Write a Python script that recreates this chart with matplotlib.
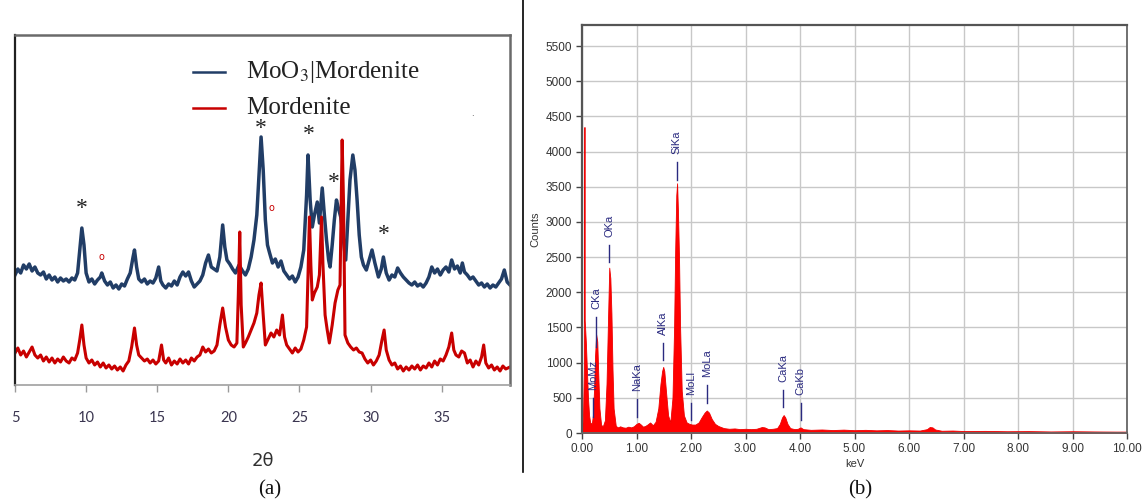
import matplotlib
matplotlib.use("Agg")
import matplotlib.pyplot as plt
from matplotlib.lines import Line2D

# ---------------- data : (a) XRD ----------------
xrd_2theta_blue = [5.0,5.2,5.4,5.6,5.8,6.0,6.2,6.4,6.6,6.8,7.0,7.2,7.4,7.6,7.8,8.0,8.2,8.4,8.6,8.8,9.0,9.2,9.4,9.55,9.7,9.85,
    10.0,10.2,10.4,10.6,10.8,11.0,11.1,11.3,11.5,11.7,11.9,12.1,12.3,12.5,12.7,12.9,13.1,13.3,13.4,13.55,13.7,13.9,
    14.1,14.3,14.5,14.7,14.9,15.1,15.25,15.4,15.6,15.8,16.0,16.2,16.4,16.6,16.8,17.0,17.2,17.4,17.6,17.8,18.0,18.2,
    18.4,18.6,18.8,19.0,19.2,19.4,19.6,19.75,19.9,20.1,20.3,20.5,20.75,21.0,21.2,21.4,21.6,21.8,22.0,22.15,22.3,22.45,
    22.6,22.75,22.9,23.1,23.3,23.5,23.7,23.9,24.1,24.3,24.5,24.7,24.9,25.1,25.3,25.5,25.6,25.75,25.9,26.05,26.25,26.4,
    26.6,26.75,26.9,27.05,27.15,27.3,27.45,27.6,27.75,27.9,28.05,28.25,28.4,28.55,28.75,28.9,29.05,29.2,29.35,29.5,
    29.7,29.9,30.1,30.3,30.55,30.75,30.9,31.1,31.3,31.5,31.7,31.9,32.1,32.3,32.5,32.7,32.9,33.1,33.3,33.5,33.7,33.9,
    34.1,34.3,34.5,34.7,34.9,35.1,35.3,35.5,35.7,35.9,36.1,36.3,36.45,36.6,36.8,37.0,37.2,37.4,37.6,37.8,38.0,38.2,
    38.4,38.6,38.8,39.0,39.2,39.4,39.6,39.8]
xrd_int_blue = [110,116,112,120,116,121,114,118,112,110,113,106,110,105,108,103,107,104,106,103,107,105,112,135,157,140,
    112,103,106,101,105,108,112,104,100,103,97,100,96,101,99,106,112,128,135,118,106,103,
    106,101,104,102,107,118,104,100,97,101,99,104,100,108,113,109,113,104,98,101,104,110,
    122,130,118,116,114,128,160,138,125,121,116,112,120,114,110,116,128,145,170,210,248,215,
    165,140,132,122,126,118,124,114,110,106,109,103,108,118,135,190,230,185,158,170,183,162,
    197,170,145,125,118,140,165,185,176,168,150,125,165,205,230,215,185,150,128,120,
    115,125,135,122,108,116,128,112,105,110,108,117,112,108,105,102,100,103,99,101,98,102,
    108,118,112,116,110,115,118,113,125,116,119,112,122,113,110,106,108,104,100,102,98,101,
    97,100,98,102,106,115,103,100]

xrd_2theta_red = [5.0,5.2,5.4,5.6,5.8,6.0,6.2,6.4,6.6,6.8,7.0,7.2,7.4,7.6,7.8,8.0,8.2,8.4,8.6,8.8,9.0,9.2,9.4,9.55,9.7,9.85,
    10.0,10.2,10.4,10.6,10.8,11.0,11.2,11.4,11.6,11.8,12.0,12.2,12.4,12.6,12.8,13.0,13.2,13.4,13.55,13.7,13.9,
    14.1,14.3,14.5,14.7,14.9,15.1,15.3,15.45,15.6,15.8,16.0,16.2,16.4,16.6,16.8,17.0,17.2,17.4,17.6,17.8,18.0,18.2,
    18.4,18.6,18.8,19.0,19.2,19.4,19.6,19.8,20.0,20.2,20.4,20.6,20.7,20.8,20.9,21.05,21.2,21.4,21.6,21.8,22.0,22.15,
    22.3,22.45,22.6,22.8,23.0,23.2,23.4,23.6,23.8,23.95,24.1,24.3,24.5,24.7,24.9,25.1,25.3,25.5,25.6,25.7,25.8,25.9,
    26.05,26.25,26.4,26.55,26.65,26.8,26.95,27.1,27.3,27.5,27.7,27.85,27.95,28.0,28.1,28.2,28.4,28.6,28.8,29.0,29.2,
    29.4,29.6,29.8,30.0,30.2,30.4,30.6,30.8,30.95,31.1,31.3,31.5,31.7,31.9,32.1,32.3,32.5,32.7,32.9,33.1,33.3,33.5,
    33.7,33.9,34.1,34.3,34.5,34.7,34.9,35.1,35.3,35.5,35.7,35.85,36.0,36.2,36.4,36.6,36.8,37.0,37.2,37.4,37.6,37.8,
    37.95,38.1,38.3,38.5,38.7,38.9,39.1,39.3,39.5,39.8]
xrd_int_red = [32,37,30,34,28,33,38,30,27,30,24,28,23,27,22,26,23,28,24,22,27,25,32,45,60,40,
    27,22,25,20,23,18,22,17,20,16,19,15,18,14,20,24,38,57,40,30,27,
    24,26,22,25,21,24,40,25,22,27,20,24,21,26,22,25,21,27,24,28,30,38,
    33,36,32,34,40,60,77,58,45,40,38,42,90,153,80,38,42,48,55,62,72,90,
    102,70,40,46,52,48,55,50,70,48,40,36,32,37,33,36,45,58,110,168,120,85,
    92,98,110,168,120,70,55,42,60,82,95,100,200,245,180,50,42,38,35,37,33,
    32,26,22,25,20,24,30,45,55,35,25,20,22,16,19,14,18,15,19,16,20,15,
    19,17,22,18,24,20,26,24,30,38,52,35,30,28,34,32,22,25,18,24,20,28,
    40,22,17,20,15,18,14,19,16,18]

star_2theta = [9.73, 22.3, 25.65, 27.4, 30.9]
star_int = [176, 257, 250, 202, 150]
circle_2theta = [11.07, 23.0]
circle_int = [128, 177]
legend_labels = ["MoO$_3$|Mordenite", "Mordenite"]
xrd_xticks = [5, 10, 15, 20, 25, 30, 35]

# ---------------- data : (b) EDS ----------------
eds_kev = [0.00,0.02,0.035,0.045,0.05,0.07,0.09,0.11,0.13,0.15,0.18,0.20,0.22,0.24,0.26,0.28,0.30,0.32,
    0.35,0.38,0.42,0.45,0.48,0.50,0.52,0.54,0.56,0.58,0.62,0.66,0.70,0.75,0.80,0.85,0.90,0.95,1.00,1.04,1.08,1.12,
    1.16,1.20,1.25,1.30,1.35,1.40,1.44,1.47,1.49,1.51,1.54,1.58,1.62,1.66,1.69,1.71,1.73,1.745,1.76,1.78,1.80,1.83,
    1.87,1.92,1.97,2.02,2.08,2.14,2.20,2.25,2.29,2.33,2.38,2.44,2.50,2.60,2.70,2.80,2.90,3.00,3.10,3.20,3.30,3.35,
    3.42,3.50,3.58,3.63,3.67,3.70,3.73,3.77,3.82,3.90,3.96,4.01,4.06,4.20,4.40,4.60,4.80,5.00,5.20,5.40,5.60,5.80,
    6.00,6.20,6.33,6.38,6.43,6.48,6.60,6.80,7.00,7.40,7.80,8.20,8.60,9.00,9.40,9.80,10.00]
eds_counts = [0,300,900,4350,1600,1300,900,500,250,150,130,250,600,1100,1400,1300,800,350,
    120,90,180,700,1700,2350,2200,1700,900,350,100,80,95,80,75,90,80,95,130,145,120,90,
    100,120,150,110,160,350,700,880,940,880,600,250,150,500,1500,2600,3380,3550,3170,2500,1500,600,
    250,150,130,120,120,150,230,290,320,290,200,130,100,70,60,65,55,60,55,60,85,80,
    55,60,70,130,220,255,220,130,70,55,60,80,55,45,50,42,48,40,45,38,42,35,
    38,35,55,85,80,50,32,35,28,30,25,27,22,25,22,20,20]

eds_lines = ["MoMz", "CKa", "OKa", "NaKa", "AlKa", "SiKa", "MoLl", "MoLa", "CaKa", "CaKb"]
eds_line_kev = [0.20, 0.26, 0.50, 1.01, 1.49, 1.74, 2.00, 2.29, 3.69, 4.01]
eds_line_lo = [230, 1220, 2430, 230, 1040, 3600, 190, 430, 370, 190]
eds_line_hi = [500, 1650, 2670, 480, 1280, 3850, 430, 680, 610, 430]
eds_yticks = list(range(0, 5501, 500))
eds_xticks = list(range(0, 11))

# ---------------- figure ----------------
W, H = 1143, 501
fig = plt.figure(figsize=(W / 100, H / 100), dpi=100)

def fx(px):
    return px / W

def fy(py):
    return 1 - py / H

blue = "#213d66"
red = "#c80000"

# (a) XRD panel
axa = fig.add_axes([fx(15), fy(385), fx(510) - fx(15), fy(35) - fy(385)])
axa.plot(xrd_2theta_blue, xrd_int_blue, color=blue, lw=2.5, solid_joinstyle="round")
axa.plot(xrd_2theta_red, xrd_int_red, color=red, lw=2.2, solid_joinstyle="round")
axa.set_xlim(5, 39.8)
axa.set_ylim(0, 350)
axa.set_yticks([])
axa.set_xticks(xrd_xticks)
axa.set_xticklabels([str(t) for t in xrd_xticks], fontsize=10.5, color="#3a3550", family="Lato")
axa.tick_params(axis="x", direction="out", length=5, width=1, color="#9a9a9a", pad=14)
for s in ["top", "right"]:
    axa.spines[s].set_color("#6a6a6a")
    axa.spines[s].set_linewidth(1.8)
axa.spines["left"].set_color("#202020")
axa.spines["left"].set_linewidth(1.6)
axa.spines["bottom"].set_color("#a0a0a0")
axa.spines["bottom"].set_linewidth(1.2)
axa.set_xlabel("2θ", fontsize=13, color="#303030", family="DejaVu Sans", labelpad=19)

for x, y in zip(star_2theta, star_int):
    axa.text(x, y, "*", fontsize=17, family="Liberation Serif", ha="center", va="center", color="#222222")
for x, y in zip(circle_2theta, circle_int):
    axa.text(x, y, "o", fontsize=7, family="DejaVu Sans", ha="center", va="center", color=red)

# legend (drawn as lines + text)
plt.rcParams["mathtext.fontset"] = "stix"
leg_colors = [blue, red]
leg_y = [72, 108]
for lab, c, yy in zip(legend_labels, leg_colors, leg_y):
    fig.add_artist(Line2D([fx(193), fx(225)], [fy(yy), fy(yy)], color=c, lw=1.8))
    fig.text(fx(246), fy(yy), lab, fontsize=18, family="Liberation Serif", color="#222222", va="center", ha="left")
fig.text(fx(472), fy(113), ".", fontsize=6, color="#333333", ha="center", va="center")

fig.text(fx(270), fy(490), "(a)", fontsize=15, family="Liberation Serif", ha="center", va="center", color="#111111")

# separator
fig.add_artist(Line2D([fx(523), fx(523)], [fy(472), 1.0], color="black", lw=1.2))

# (b) EDS panel
axb = fig.add_axes([fx(582), fy(433), fx(1127) - fx(582), fy(25) - fy(433)])
axb.fill_between(eds_kev, 0, eds_counts, color="#ff0000", lw=0.6, edgecolor="#ee0000")
axb.set_xlim(0, 10)
axb.set_ylim(0, 5800)
axb.set_xticks(eds_xticks)
axb.set_xticklabels(["%.2f" % t for t in eds_xticks], fontsize=8.5, family="Liberation Sans", color="#333333")
axb.set_yticks(eds_yticks)
axb.set_yticklabels([str(t) for t in eds_yticks], fontsize=8.5, family="Liberation Sans", color="#333333")
axb.tick_params(direction="out", length=4, width=1, color="#444444", pad=3)
axb.grid(True, color="#c8c8c8", lw=1)
axb.set_axisbelow(True)
for s in ["top", "left"]:
    axb.spines[s].set_color("#555555")
    axb.spines[s].set_linewidth(1.6)
for s in ["bottom", "right"]:
    axb.spines[s].set_color("#666666")
    axb.spines[s].set_linewidth(1.3)
axb.set_ylabel("Counts", fontsize=8, family="Liberation Sans", color="#333333", labelpad=4)
axb.set_xlabel("keV", fontsize=8, family="Liberation Sans", color="#333333", labelpad=3)

lab_color = "#2a2a80"
for name, k, lo, hi in zip(eds_lines, eds_line_kev, eds_line_lo, eds_line_hi):
    axb.plot([k, k], [lo, hi], color=lab_color, lw=1.0)
    axb.text(k, hi + 110, name, rotation=90, fontsize=8, family="Liberation Sans",
             color=lab_color, ha="center", va="bottom")

fig.text(fx(860), fy(490), "(b)", fontsize=15, family="Liberation Serif", ha="center", va="center", color="#111111")

fig.savefig("out.png", dpi=100)
